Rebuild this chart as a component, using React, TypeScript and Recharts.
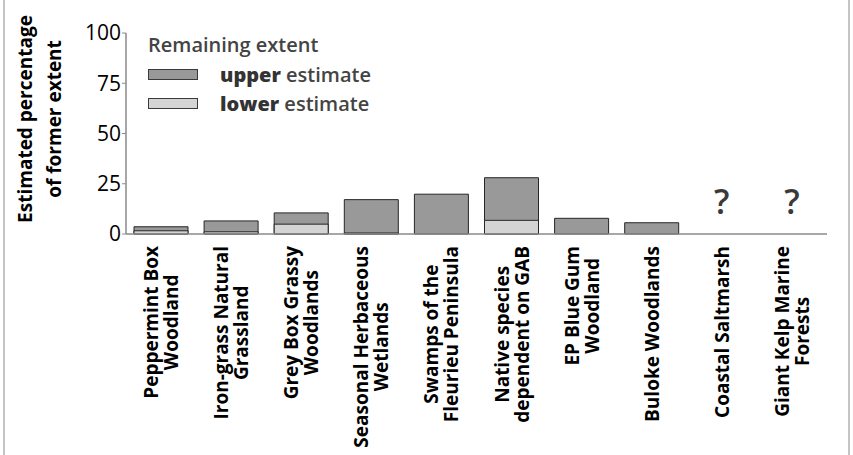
import React from 'react';
import { BarChart, Bar, XAxis, YAxis } from 'recharts';

// Remaining extent of each community, % of former extent
const categories = [
  'Peppermint Box\nWoodland',
  'Iron-grass Natural\nGrassland',
  'Grey Box Grassy\nWoodlands',
  'Seasonal Herbaceous\nWetlands',
  'Swamps of the\nFleurieu Peninsula',
  'Native species\ndependent on GAB',
  'EP Blue Gum\nWoodland',
  'Buloke Woodlands',
  'Coastal Saltmarsh',
  'Giant Kelp Marine\nForests',
];
const upperEstimate = [3.6, 6.5, 10.5, 17.1, 19.8, 28, 7.8, 5.6, null, null];
const lowerEstimate = [1.6, 1.1, 4.9, 0.5, 0, 6.8, 0, 0, null, null];
const yTicks = [0, 25, 50, 75, 100];

const FONT = '"Open Sans", Lato, sans-serif';
const TICK_FONT_SIZE = 19;
const TICK_SIZE = 6;
const TICK_MARGIN = 2;
const UPPER_FILL = '#999999';
const LOWER_FILL = '#d4d4d4';
const OUTLINE = '#262626';
const AXIS_GREY = '#8a8a8a';

const data = categories.map((name, i) => ({
  name,
  upper: upperEstimate[i] ?? 0,
  lower: lowerEstimate[i] ?? 0,
}));

let ctx: CanvasRenderingContext2D | null = null;
const textWidth = (s: string, font: string) => {
  if (!ctx && typeof document !== 'undefined') ctx = document.createElement('canvas').getContext('2d');
  if (!ctx) return s.length * 10;
  ctx.font = font;
  return ctx.measureText(s).width;
};

// category label, rotated and two-line; "?" above the axis when extent is unknown
const CategoryTick = (props: any) => {
  const { x, y, payload } = props;
  const name = String(payload.value);
  const lines = name.split('\n');
  const font = `bold ${TICK_FONT_SIZE}px ${FONT}`;
  const longest = Math.max(...lines.map((l) => textWidth(l, font)));
  const gap = 20;
  const first = -((lines.length - 1) * gap) / 2 + 7;
  const unknown = upperEstimate[categories.indexOf(name)] == null;
  const axisY = y - TICK_SIZE - TICK_MARGIN;
  return (
    <g>
      {unknown && (
        <text x={x} y={axisY - 20} textAnchor="middle" fontFamily={FONT} fontWeight={600} fontSize={34} fill="#3a3a3a">
          ?
        </text>
      )}
      <g transform={`translate(${x},${y + 4})`}>
        <text
          transform="rotate(-90)"
          textAnchor="middle"
          fontFamily={FONT}
          fontWeight="bold"
          fontSize={TICK_FONT_SIZE}
          fill="#000"
        >
          {lines.map((l, i) => (
            <tspan key={i} x={-longest / 2} y={first + i * gap}>
              {l}
            </tspan>
          ))}
        </text>
      </g>
    </g>
  );
};

const YTitle = () => (
  <text
    transform="translate(0,119) rotate(-90)"
    textAnchor="middle"
    fontFamily={FONT}
    fontWeight="bold"
    fontSize={19}
    fill="#000"
  >
    <tspan x={0} y={32}>Estimated percentage</tspan>
    <tspan x={0} y={61}>of former extent</tspan>
  </text>
);

const Swatch = ({ fill }: { fill: string }) => (
  <div
    style={{
      width: 48,
      height: 9,
      background: fill,
      border: '1px solid #3a3a3a',
      display: 'inline-block',
      marginRight: 22,
      verticalAlign: 'middle',
      position: 'relative',
      top: -2,
    }}
  />
);

const LegendBox = () => (
  <div
    style={{
      position: 'absolute',
      left: 148,
      top: 30,
      fontFamily: FONT,
      color: '#444',
      lineHeight: '29px',
      fontWeight: 600,
    }}
  >
    <div style={{ fontSize: 20 }}>Remaining extent</div>
    <div style={{ fontSize: 20, marginTop: 1 }}>
      <Swatch fill={UPPER_FILL} />
      <span style={{ color: '#333', fontWeight: 800 }}>upper</span> estimate
    </div>
    <div style={{ fontSize: 20 }}>
      <Swatch fill={LOWER_FILL} />
      <span style={{ color: '#333', fontWeight: 800 }}>lower</span> estimate
    </div>
  </div>
);

export default function App() {
  return (
    <div style={{ position: 'absolute', left: 0, top: 0, width: 853, height: 455, background: '#fff', overflow: 'hidden' }}>
      <div style={{ position: 'absolute', left: 3, top: 0, width: 2, height: 455, background: '#c4c4c4' }} />
      <div style={{ position: 'absolute', left: 848, top: 0, width: 2, height: 455, background: '#c4c4c4' }} />
      <BarChart
        width={853}
        height={455}
        data={data}
        margin={{ top: 33, right: 26, left: 0, bottom: 0 }}
      >
        <XAxis
          xAxisId="upper"
          dataKey="name"
          interval={0}
          height={221}
          tickLine={false}
          tickSize={TICK_SIZE}
          tickMargin={TICK_MARGIN}
          axisLine={{ stroke: AXIS_GREY, strokeWidth: 1.5 }}
          tick={<CategoryTick />}
        />
        <XAxis xAxisId="lower" dataKey="name" hide height={0} />
        <YAxis
          width={126}
          domain={[0, 100]}
          ticks={yTicks}
          interval={0}
          tickSize={4}
          tickMargin={1}
          axisLine={{ stroke: AXIS_GREY, strokeWidth: 1.5 }}
          tickLine={{ stroke: AXIS_GREY }}
          tick={{ fill: '#000', fontSize: 21, fontFamily: FONT }}
          label={{ content: <YTitle /> }}
        />
        <Bar
          xAxisId="upper"
          dataKey="upper"
          barSize={54}
          fill={UPPER_FILL}
          stroke={OUTLINE}
          strokeWidth={1}
          isAnimationActive={false}
        />
        <Bar
          xAxisId="lower"
          dataKey="lower"
          barSize={54}
          fill={LOWER_FILL}
          stroke={OUTLINE}
          strokeWidth={1}
          isAnimationActive={false}
        />
      </BarChart>
      <LegendBox />
    </div>
  );
}
